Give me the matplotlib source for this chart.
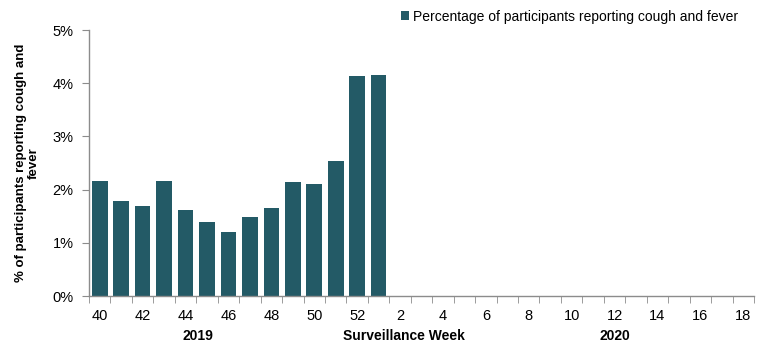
import matplotlib.pyplot as plt
import numpy as np
from matplotlib.ticker import PercentFormatter

# semanas de vigilancia: 40-52 de 2019 y 1-18 de 2020
weeks = list(range(40, 53)) + list(range(1, 19))
# porcentaje de participantes con tos y fiebre (solo hay datos hasta la semana 1)
pct = [2.16, 1.79, 1.69, 2.16, 1.62, 1.39, 1.20, 1.49, 1.66, 2.15, 2.11, 2.54, 4.14, 4.16]
year_labels = ['2019', 'Surveillance Week', '2020']
series_name = 'Percentage of participants reporting cough and fever'

plt.rcParams['font.family'] = ['Liberation Sans', 'DejaVu Sans']
bar_color = '#235A66'
axis_color = '#8c8c8c'

fig = plt.figure(figsize=(7.73, 3.49), dpi=100)
ax = fig.add_axes([89 / 773, 1 - 296 / 349, (754 - 89) / 773, (296 - 30) / 349])

x = np.arange(len(weeks))
ax.bar(x[:len(pct)], pct, width=0.73, color=bar_color, label=series_name, zorder=2)

ax.set_xlim(-0.5, len(weeks) - 0.5)
ax.set_ylim(0, 5)
ax.yaxis.set_major_formatter(PercentFormatter(decimals=0))
ax.set_yticks(range(0, 6))

# etiquetas cada dos semanas, marcas en los limites de cada categoria
ax.set_xticks(x[::2])
ax.set_xticklabels([str(w) for w in weeks[::2]])
ax.set_xticks(np.arange(-0.5, len(weeks)), minor=True)
ax.tick_params(axis='x', which='major', length=0, pad=9, labelsize=10.5, colors='black')
ax.tick_params(axis='x', which='minor', length=5, color=axis_color, direction='out')
ax.tick_params(axis='y', length=5, color=axis_color, labelsize=10.5, pad=6)

for s in ['top', 'right']:
    ax.spines[s].set_visible(False)
for s in ['left', 'bottom']:
    ax.spines[s].set_color(axis_color)
    ax.spines[s].set_linewidth(1.0)

ax.set_ylabel('% of participants reporting cough and\nfever', fontsize=9.5,
              fontweight='bold', labelpad=9, linespacing=1.15)

# rotulos de año y eje bajo las etiquetas
for lbl, xpos in zip(year_labels, [198, 404, 615]):
    fig.text(xpos / 773, 1 - 336 / 349, lbl, ha='center', va='center',
             fontsize=10, fontweight='bold')

ax.legend(loc='upper left', bbox_to_anchor=(395 / 773, 1 - 4 / 349),
          bbox_transform=fig.transFigure, frameon=False, fontsize=10,
          handlelength=0.6, handleheight=0.6, handletextpad=0.3, borderaxespad=0)

fig.savefig('out.png', dpi=100)
